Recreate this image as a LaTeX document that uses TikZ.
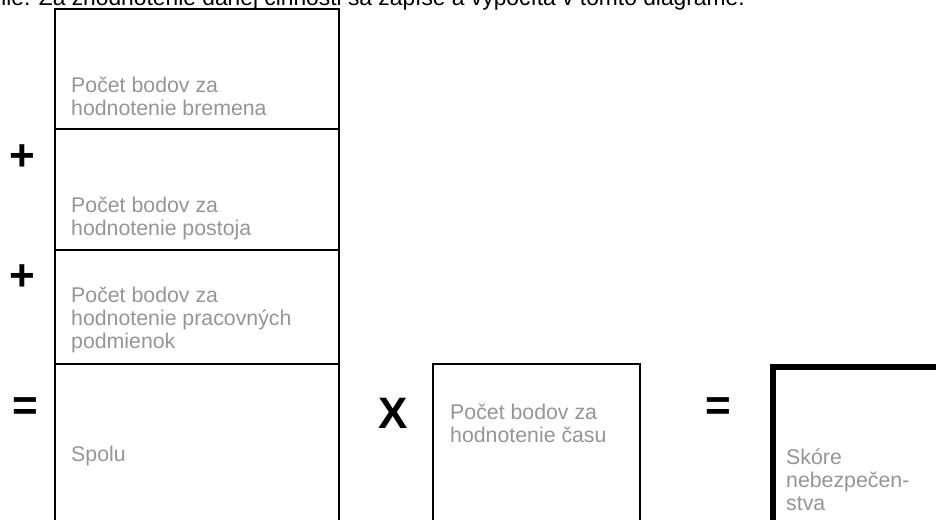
\documentclass[tikz,border=0pt]{standalone}
\usepackage{fontspec}
\setmainfont{Liberation Sans}
\usepackage{tikz}
\usepackage{xcolor}
\definecolor{txtgray}{HTML}{959595}

\begin{document}
\begin{tikzpicture}[x=1pt,y=-1pt]
\tikzstyle{op}=[inner sep=0,font=\fontsize{44}{44}\selectfont\bfseries]
\tikzstyle{lbl}=[anchor=base west,inner sep=0,align=left,text=txtgray,font=\fontsize{21.3}{23}\selectfont]
\tikzstyle{box}=[draw,line width=2pt]
\tikzstyle{result}=[draw,line width=6pt]
\useasboundingbox(0,0)rectangle(936,519);
\clip(0,0)rectangle(936,519);
% clipped line of text above the diagram
\node(intro)at(745,6)[anchor=base east,inner sep=0,font=\fontsize{22.8}{25}\selectfont]{nie. Za zhodnotenie danej činnosti sa zapíše a vypočíta v tomto diagrame.};
% left column
\draw[box](55,9)rectangle(339,540);
\draw[box](55,129)--(339,129);
\draw[box](55,250)--(339,250);
\draw[box](55,364)--(339,364);
\node(bremeno)at(71,115)[lbl]{Počet bodov za\\hodnotenie bremena};
\node(postoj)at(71,235)[lbl]{Počet bodov za\\hodnotenie postoja};
\node(podmienky)at(71,348)[lbl]{Počet bodov za\\hodnotenie pracovných\\podmienok};
\node(spolu)at(71,461.5)[lbl]{Spolu};
\node(plus1)at(22.5,158)[op]{+};
\node(plus2)at(22.5,278)[op]{+};
\node(eq1)at(25,409)[op]{=};
% time and result
\node(times)at(393,413)[op]{X};
\draw[box](433,364)rectangle(640,540);
\node(cas)at(450,442)[lbl]{Počet bodov za\\hodnotenie času};
\node(eq2)at(718,409)[op]{=};
\draw[result](773,367)rectangle(960,540);
\node(skore)at(786,510)[lbl]{Skóre\\nebezpečen-\\stva};
\end{tikzpicture}
\end{document}
